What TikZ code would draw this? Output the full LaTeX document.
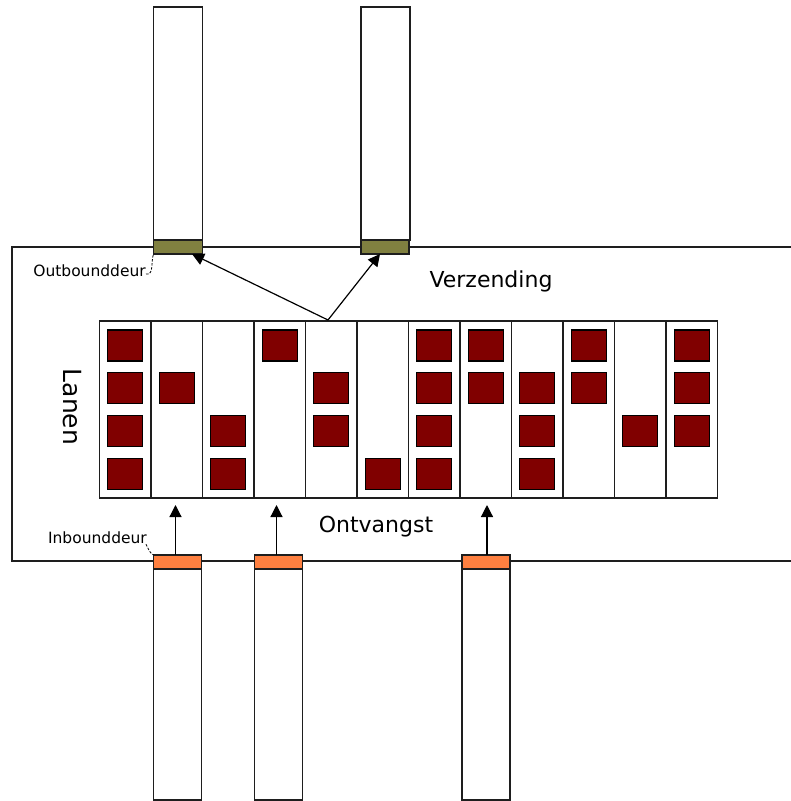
\documentclass[tikz,border=0pt]{standalone}
\usepackage{fontspec}
\setmainfont{DejaVu Sans}
\usetikzlibrary{arrows.meta}
\definecolor{boxred}{RGB}{128,0,0}
\definecolor{outdoor}{RGB}{128,128,64}
\definecolor{indoor}{RGB}{255,128,64}
\definecolor{edge}{RGB}{30,30,30}
\begin{document}
\begin{tikzpicture}[x=1pt,y=-1pt,
  frame/.style={draw=edge,line width=1.7pt},
  truck/.style={draw=edge,line width=1.9pt,fill=white,minimum width=49pt,inner sep=0pt,outer sep=0pt},
  odoor/.style={draw=edge,line width=1.6pt,fill=outdoor,minimum width=49pt,minimum height=14pt,inner sep=0pt,outer sep=0pt},
  idoor/.style={draw=edge,line width=1.6pt,fill=indoor,minimum width=48pt,minimum height=14pt,inner sep=0pt,outer sep=0pt},
  lane/.style={draw=edge,line width=1.8pt,minimum width=51.5pt,minimum height=177pt,inner sep=0pt,outer sep=0pt},
  crate/.style={draw=black,line width=1.2pt,fill=boxred,minimum width=35pt,minimum height=31pt,inner sep=0pt,outer sep=0pt},
  arr/.style={draw=black,line width=1.2pt,-{Triangle[width=12pt,length=12pt]}},
  leader/.style={draw=black,line width=0.8pt,dash pattern=on 2.5pt off 1.5pt},
  small/.style={font=\fontsize{15.5}{16}\selectfont,inner sep=0pt},
  big/.style={font=\fontsize{22}{24}\selectfont,inner sep=0pt}
]
\useasboundingbox (0,0) rectangle (791,801);
% main hall
\draw[frame] (791,247) -- (12,247) -- (12,561) -- (791,561);
% outbound trucks and doors
\node[truck,minimum height=233pt,anchor=north west] (ot1) at (153.5,7) {};
\node[odoor,anchor=north west] (od1) at (153.5,240) {};
\node[truck,minimum height=233pt,anchor=north west] (ot2) at (361,7) {};
\node[odoor,minimum width=48pt,anchor=north west] (od2) at (361,240) {};
% inbound trucks and doors
\node[idoor,anchor=north west] (id1) at (153.5,555) {};
\node[truck,minimum width=48pt,minimum height=231pt,anchor=north west] (it1) at (153.5,569) {};
\node[idoor,anchor=north west] (id2) at (254.5,555) {};
\node[truck,minimum width=48pt,minimum height=231pt,anchor=north west] (it2) at (254.5,569) {};
\node[idoor,anchor=north west] (id3) at (462,555) {};
\node[truck,minimum width=48pt,minimum height=231pt,anchor=north west] (it3) at (462,569) {};
% lanes
\foreach \i in {1,...,12}{
  \node[lane,anchor=north west] (L\i) at ({99.5+51.5*(\i-1)},321) {};
}
% crates: lane/row
\foreach \l/\r in {1/1,1/2,1/3,1/4,2/2,3/3,3/4,4/1,5/2,5/3,6/4,7/1,7/2,7/3,7/4,8/1,8/2,9/2,9/3,9/4,10/1,10/2,11/3,12/1,12/2,12/3}{
  \node[crate] (B\l-\r) at ({99.5+51.5*(\l-1)+25.75},{345.5+42.8*(\r-1)}) {};
}
% labels
\node[big] (verz) at (491,281) {Verzending};
\node[big] (ontv) at (376,527) {Ontvangst};
\node[big,font=\fontsize{25}{26}\selectfont,rotate=-90] (lanen) at (72,407) {Lanen};
\node[small,anchor=east] (outlbl) at (146,271) {Outbounddeur};
\node[small,anchor=east] (inlbl) at (147,538) {Inbounddeur};
% leader lines
\draw[leader] (outlbl.east) ++(0,3) to[out=-10,in=-110] (od1.south west);
\draw[leader] (inlbl.south east) ++(-1,0) to[out=-60,in=150] (id1.north west);
% arrows
\coordinate (split) at (328,320);
\draw[arr] (split) -- ([xshift=14pt]od1.south);
\draw[arr] (split) -- ([xshift=-5pt]od2.south);
\draw[arr] ([xshift=-2pt]id1.north) -- ++(0,-50);
\draw[arr] ([xshift=-2pt]id2.north) -- ++(0,-50);
\draw[arr] ([xshift=1pt]id3.north) -- ++(0,-50);
\end{tikzpicture}
\end{document}
